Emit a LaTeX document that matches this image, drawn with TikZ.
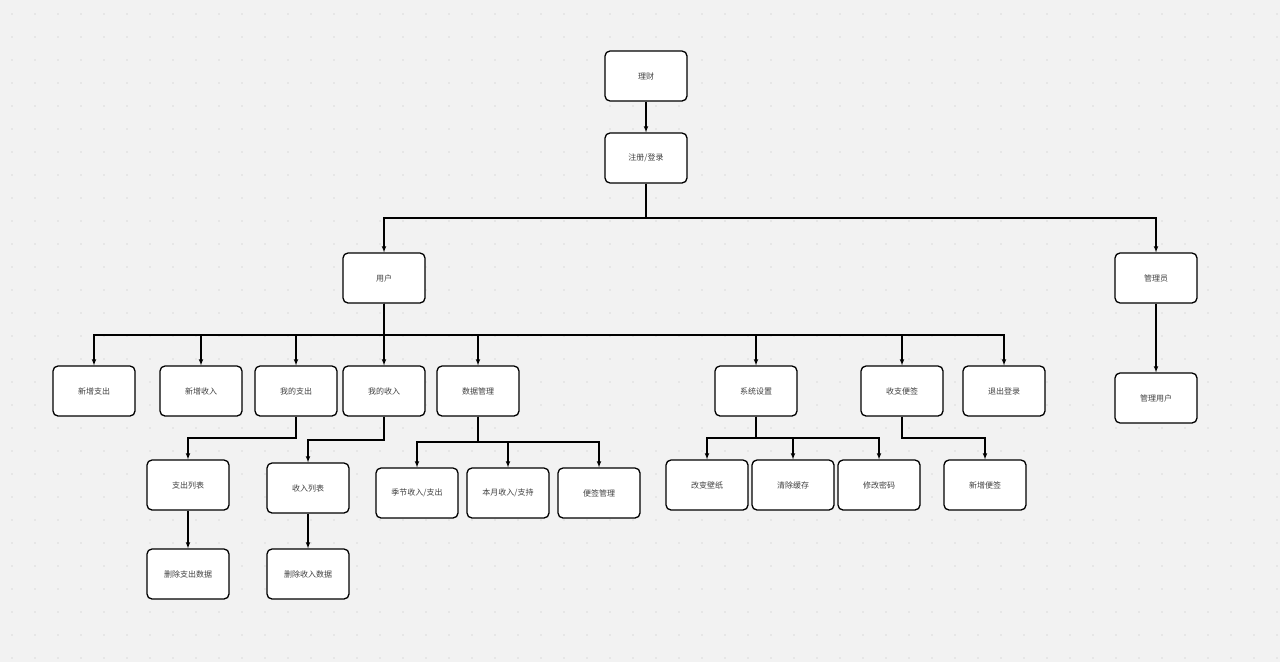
\documentclass[tikz,border=0pt]{standalone}
\usepackage{fontspec}
\newfontfamily\cjk{Noto Sans CJK SC}
\begin{document}
\begin{tikzpicture}[x=1pt,y=-1pt,
  box/.style={draw=black,line width=1.3pt,rounded corners=5pt,fill=white,minimum width=82pt,minimum height=50pt,font=\cjk\fontsize{8}{9}\selectfont,text=black!75},
  ar/.style={draw=black,line width=1.1pt,-latex}]
\fill[black!5] (0,0) rectangle (1280,662);
\useasboundingbox (0,0) rectangle (1280,662);
\foreach \x in {12,35,...,1280}{\foreach \y in {14,37,...,662}{\fill[black!25] (\x,\y) circle (0.6);}}
\node[box] (lc) at (646,76) {理财};
\node[box] (zc) at (646,158) {注册/登录};
\node[box] (yh) at (384,278) {用户};
\node[box] (gly) at (1156,278) {管理员};
\node[box] (glyh) at (1156,398) {管理用户};
\node[box] (xzzc) at (94,391) {新增支出};
\node[box] (xzsr) at (201,391) {新增收入};
\node[box] (wdzc) at (296,391) {我的支出};
\node[box] (wdsr) at (384,391) {我的收入};
\node[box] (sjgl) at (478,391) {数据管理};
\node[box] (xtsz) at (756,391) {系统设置};
\node[box] (szbq) at (902,391) {收支便签};
\node[box] (tcdl) at (1004,391) {退出登录};
\node[box] (zclb) at (188,485) {支出列表};
\node[box] (sczc) at (188,574) {删除支出数据};
\node[box] (srlb) at (308,488) {收入列表};
\node[box] (scsr) at (308,574) {删除收入数据};
\node[box] (jj) at (417,493) {季节收入/支出};
\node[box] (by) at (508,493) {本月收入/支持};
\node[box] (bqgl) at (599,493) {便签管理};
\node[box] (gbbz) at (707,485) {改变壁纸};
\node[box] (qchc) at (793,485) {清除缓存};
\node[box] (xgmm) at (879,485) {修改密码};
\node[box] (xzbq) at (985,485) {新增便签};
\draw[ar] (lc) -- (zc);
\draw[ar] (zc.south) |- (384,218) -- (yh.north);
\draw[ar] (zc.south) |- (1156,218) -- (gly.north);
\draw[ar] (gly) -- (glyh);
\foreach \n in {xzzc,xzsr,wdzc,wdsr,sjgl,xtsz,szbq,tcdl}{\draw[ar] (yh.south) |- (\n.north |- 0,335) -- (\n.north);}
\draw[ar] (wdzc.south) |- (188,438) -- (zclb.north);
\draw[ar] (zclb) -- (sczc);
\draw[ar] (wdsr.south) |- (308,440) -- (srlb.north);
\draw[ar] (srlb) -- (scsr);
\foreach \n in {jj,by,bqgl}{\draw[ar] (sjgl.south) |- (\n.north |- 0,442) -- (\n.north);}
\foreach \n in {gbbz,qchc,xgmm}{\draw[ar] (xtsz.south) |- (\n.north |- 0,438) -- (\n.north);}
\draw[ar] (szbq.south) |- (985,438) -- (xzbq.north);
\end{tikzpicture}
\end{document}
